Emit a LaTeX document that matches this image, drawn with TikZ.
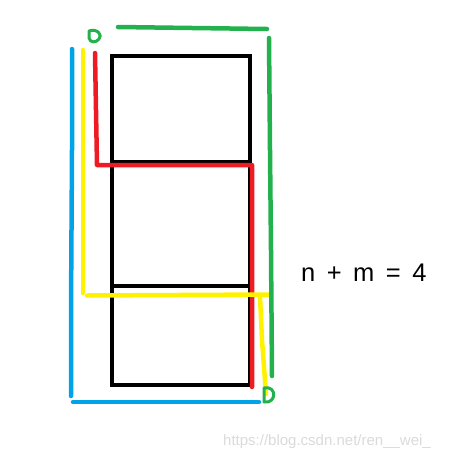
\documentclass[tikz,border=0pt]{standalone}
\usepackage{fontspec}
\setmainfont{Liberation Sans}
\definecolor{pred}{RGB}{237,28,36}
\definecolor{pblue}{RGB}{0,162,232}
\definecolor{pyellow}{RGB}{255,242,0}
\definecolor{pgreen}{RGB}{34,177,76}
\definecolor{wmark}{RGB}{218,218,218}
\begin{document}
\begin{tikzpicture}[x=1pt,y=-1pt,
  box/.style={draw=black,line width=4pt},
  brush/.style={line width=4.5pt,line cap=round,line join=round},
  lbl/.style={inner sep=0pt,anchor=west}]
\useasboundingbox (0,0) rectangle (452,459);
% black boxes
\draw[box] (112,55.5) rectangle (250,162);
\draw[box] (112,162) rectangle (250,286);
\draw[box] (112,286) rectangle (250,385);
% red path
\draw[brush,pred] (95,53) -- (96,110) -- (97,165) -- (252,165) -- (252,387);
% yellow path
\draw[brush,yellow!0!pyellow] (83,50) -- (83,293);
\draw[brush,pyellow] (87,295.5) -- (269,294.5);
\draw[brush,pyellow] (260,296) -- (262,340) -- (266,394);
% blue path
\draw[brush,pblue] (72,49) -- (72,150) -- (71,310) -- (71,396);
\draw[brush,pblue] (73,402) -- (259,402);
% green
\draw[brush,pgreen] (118,27) -- (155,27.5) -- (230,28.5) -- (267,29);
\draw[brush,pgreen] (269,38) -- (270,150) -- (271,250) -- (272,376);
\draw[pgreen,line width=3pt,line join=round] (89,31) .. controls (97,28) and (103,35) .. (99,39) .. controls (96,43) and (90,43) .. (89,38) -- cycle;
\draw[pgreen,line width=3pt,line join=round] (264,388) .. controls (277,385) and (277,404) .. (264,402) -- cycle;
% text
\node[lbl,font=\fontsize{25.5}{30}\selectfont] (eq) at (301,272.5) {n\hspace{11.5pt}+\hspace{11.5pt}m\hspace{11.5pt}=\hspace{11.5pt}4};
\node[lbl,text=wmark,font=\fontsize{15}{18}\selectfont] (wm) at (223,441.5) {https://blog.csdn.net/ren\_\_wei\_};
\end{tikzpicture}
\end{document}
